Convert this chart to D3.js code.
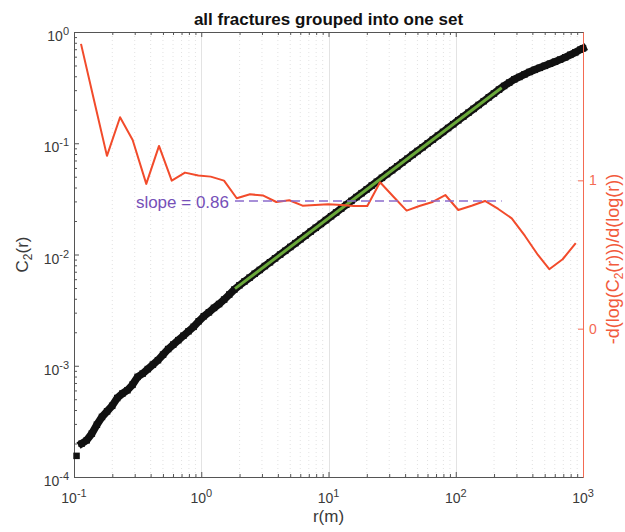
<!DOCTYPE html>
<html><head><meta charset="utf-8">
<script src="https://cdn.jsdelivr.net/npm/d3@7"></script>
<style>body{margin:0;background:#fff}text{font-family:"Liberation Sans",Arial,Helvetica,sans-serif}</style>
</head><body>
<svg id="chart" width="625" height="532"></svg>
<script>
// ---------- data ----------
const titleText = "all fractures grouped into one set";
const xLabelText = "r(m)";
// correlation integral C2(r): log10 r and log10 C2
const logR = [-0.98,-0.94,-0.90,-0.86,-0.82,-0.78,-0.74,-0.70,-0.66,-0.62,-0.58,-0.54,-0.50,-0.46,-0.42,-0.38,-0.34,-0.30,-0.26,-0.22,-0.18,-0.14,-0.10,-0.06,-0.02,
  0.02,0.06,0.10,0.14,0.18,0.22,0.26,0.30,0.34,0.38,0.42,0.46,0.50,0.54,0.58,0.62,0.66,0.70,0.74,0.78,0.82,0.86,0.90,0.94,0.98,
  1.02,1.06,1.10,1.14,1.18,1.22,1.26,1.30,1.34,1.38,1.42,1.46,1.50,1.54,1.58,1.62,1.66,1.70,1.74,1.78,1.82,1.86,1.90,1.94,1.98,
  2.02,2.06,2.10,2.14,2.18,2.22,2.26,2.30,2.34,2.38,2.42,2.46,2.50,2.54,2.58,2.62,2.66,2.70,2.74,2.78,2.82,2.86,2.90,2.94,2.98,3.00];
const logC2 = [-3.81,-3.70,-3.67,-3.61,-3.53,-3.46,-3.41,-3.36,-3.29,-3.25,-3.22,-3.17,-3.10,-3.07,-3.03,-2.99,-2.95,-2.90,-2.85,-2.81,-2.77,-2.73,-2.69,-2.65,-2.60,
  -2.555,-2.52,-2.48,-2.445,-2.405,-2.36,-2.315,-2.277,-2.242,-2.208,-2.173,-2.139,-2.104,-2.070,-2.035,-2.001,-1.967,-1.932,-1.898,-1.863,-1.829,-1.794,-1.760,-1.725,-1.691,
  -1.656,-1.622,-1.587,-1.553,-1.518,-1.484,-1.449,-1.415,-1.380,-1.346,-1.311,-1.277,-1.242,-1.208,-1.173,-1.139,-1.104,-1.070,-1.036,-1.001,-0.967,-0.932,-0.898,-0.863,-0.829,
  -0.794,-0.760,-0.725,-0.691,-0.656,-0.622,-0.587,-0.553,-0.518,-0.485,-0.455,-0.426,-0.404,-0.381,-0.359,-0.340,-0.322,-0.304,-0.285,-0.267,-0.248,-0.228,-0.205,-0.183,-0.158,-0.147];
// local slope -d(log C2)/d(log r) (right axis)
const derivLogR = [-0.945,-0.843,-0.741,-0.638,-0.539,-0.432,-0.332,-0.232,-0.128,-0.023,0.074,0.179,0.279,0.383,0.488,0.590,0.692,0.796,0.894,0.998,
  1.104,1.200,1.305,1.405,1.509,1.614,1.714,1.811,1.918,2.020,2.125,2.230,2.334,2.440,2.544,2.646,2.735,2.840,2.943];
const derivValues = [1.920,1.542,1.165,1.425,1.272,0.976,1.232,0.998,1.052,1.032,1.025,0.998,0.879,0.906,0.897,0.854,0.866,0.829,0.834,0.839,
  0.834,0.827,0.827,0.987,0.891,0.796,0.827,0.852,0.901,0.800,0.829,0.861,0.807,0.744,0.625,0.497,0.401,0.468,0.576];
// fitted power law
const fitR = [1.841, 229.6];
const fitC2 = [0.00493, 0.3155];
const fitSlope = 0.86;
const slopeLabel = "slope = 0.86";
// ticks
const xTickExps = [-1, 0, 1, 2, 3];
const yTickExps = [0, -1, -2, -3, -4];
const rightTicks = [0, 1];

// ---------- drawing ----------
const L = 74, R = 583, T = 32, B = 477;
const svg = d3.select("#chart");
const x = d3.scaleLog().domain([0.1, 1000]).range([L, R]);
const y = d3.scaleLog().domain([1e-4, 1]).range([B, T]);
const y2 = d3.scaleLinear().domain([-1, 2]).range([B, T]);

const axisGray = "#555";
const labelGray = "#3a3a3a";
const red = "#f24b2b";

const majorX = xTickExps.map(e => Math.pow(10, e));
const minorX = [];
for (let e = -1; e < 3; e++) for (let m = 2; m <= 9; m++) minorX.push(m * Math.pow(10, e));
const majorY = yTickExps.map(e => Math.pow(10, e));
const minorY = [];
for (let e = -4; e < 0; e++) for (let m = 2; m <= 9; m++) minorY.push(m * Math.pow(10, e));

// grid (vertical only)
const grid = svg.append("g");
grid.selectAll("line.minor").data(minorX).enter().append("line")
  .attr("x1", d => x(d)).attr("x2", d => x(d)).attr("y1", T).attr("y2", B)
  .attr("stroke", "#d6d6d6").attr("stroke-width", 0.7).attr("stroke-dasharray", "1,3");
grid.selectAll("line.major").data(majorX.slice(1, -1)).enter().append("line")
  .attr("x1", d => Math.round(x(d)) + 0.5).attr("x2", d => Math.round(x(d)) + 0.5).attr("y1", T).attr("y2", B)
  .attr("stroke", "#e3e3e3").attr("stroke-width", 1);

function styleAxis(g, color) {
  g.select(".domain").attr("stroke", color).attr("stroke-width", 1);
  g.selectAll(".tick line").attr("stroke", color).attr("stroke-width", 1);
  g.selectAll(".tick text").remove();
}
// bottom / top axes
const bMaj = svg.append("g").attr("transform", `translate(0,${B})`)
  .call(d3.axisBottom(x).tickValues(majorX).tickSizeInner(-5).tickSizeOuter(0).tickFormat(() => ""));
styleAxis(bMaj, axisGray);
const bMin = svg.append("g").attr("transform", `translate(0,${B})`)
  .call(d3.axisBottom(x).tickValues(minorX).tickSizeInner(-3).tickSizeOuter(0).tickFormat(() => ""));
styleAxis(bMin, axisGray);
const tMaj = svg.append("g").attr("transform", `translate(0,${T})`)
  .call(d3.axisTop(x).tickValues(majorX).tickSizeInner(-5).tickSizeOuter(0).tickFormat(() => ""));
styleAxis(tMaj, axisGray);
const tMin = svg.append("g").attr("transform", `translate(0,${T})`)
  .call(d3.axisTop(x).tickValues(minorX).tickSizeInner(-3).tickSizeOuter(0).tickFormat(() => ""));
styleAxis(tMin, axisGray);
// left axis
const lMaj = svg.append("g").attr("transform", `translate(${L},0)`)
  .call(d3.axisLeft(y).tickValues(majorY).tickSizeInner(-5).tickSizeOuter(0).tickFormat(() => ""));
styleAxis(lMaj, axisGray);
const lMin = svg.append("g").attr("transform", `translate(${L},0)`)
  .call(d3.axisLeft(y).tickValues(minorY).tickSizeInner(-3).tickSizeOuter(0).tickFormat(() => ""));
styleAxis(lMin, axisGray);

// tick labels with superscripts
xTickExps.forEach(e => {
  const t = svg.append("text").attr("x", x(Math.pow(10, e))).attr("y", 503)
    .attr("text-anchor", "middle").attr("fill", labelGray).attr("font-size", 14);
  t.append("tspan").text("10");
  t.append("tspan").attr("font-size", 11).attr("dy", -6).text(e);
});
yTickExps.forEach(e => {
  const t = svg.append("text").attr("x", 69).attr("y", y(Math.pow(10, e)) + 9)
    .attr("text-anchor", "end").attr("fill", labelGray).attr("font-size", 14);
  t.append("tspan").text("10");
  t.append("tspan").attr("font-size", 11).attr("dy", -6).text(e);
});

// black C2 markers (dense square markers form a continuous band)
const c2Pts = logR.map((lr, i) => [Math.pow(10, lr), Math.pow(10, logC2[i])]);
const ms = 6.5;
svg.append("path").datum(c2Pts.slice(1))
  .attr("d", d3.line().x(d => x(d[0])).y(d => y(d[1])))
  .attr("stroke", "#111").attr("stroke-width", 7.5).attr("fill", "none")
  .attr("stroke-linejoin", "miter").attr("stroke-linecap", "square");
svg.append("g").selectAll("rect").data(c2Pts)
  .enter().append("rect")
  .attr("x", d => x(d[0]) - ms / 2).attr("y", d => y(d[1]) - ms / 2)
  .attr("width", ms).attr("height", ms).attr("fill", "#111");

// green fit
svg.append("path").datum(fitR.map((r, i) => [r, fitC2[i]]))
  .attr("d", d3.line().x(d => x(d[0])).y(d => y(d[1])))
  .attr("stroke", "#6aa83a").attr("stroke-width", 3).attr("fill", "none");

// right axis
const rAx = svg.append("g").attr("transform", `translate(${R},0)`)
  .call(d3.axisRight(y2).tickValues(rightTicks).tickSizeInner(-5).tickSizeOuter(0).tickFormat(() => ""));
styleAxis(rAx, "#f46a52");
rightTicks.forEach(v => {
  svg.append("text").attr("x", 589).attr("y", y2(v) + 5).attr("fill", "#f46a52")
    .attr("font-size", 14).text(v);
});

// red derivative line
svg.append("path").datum(derivLogR.map((lr, i) => [Math.pow(10, lr), derivValues[i]]))
  .attr("d", d3.line().x(d => x(d[0])).y(d => y2(d[1])))
  .attr("stroke", red).attr("stroke-width", 2).attr("fill", "none").attr("stroke-linejoin", "round");

// dashed slope line
svg.append("path").datum(fitR.map(r => [r, fitSlope]))
  .attr("d", d3.line().x(d => x(d[0])).y(d => y2(d[1])))
  .attr("stroke", "#8a6bcc").attr("stroke-width", 1.5).attr("stroke-dasharray", "9,5").attr("fill", "none");
svg.append("text").attr("x", 229).attr("y", 208).attr("text-anchor", "end")
  .attr("fill", "#7650b8").attr("font-size", 17).text(slopeLabel);

// titles and axis labels
svg.append("text").attr("x", (L + R) / 2).attr("y", 25).attr("text-anchor", "middle")
  .attr("font-size", 17).attr("font-weight", "bold").attr("fill", "#111").text(titleText);
svg.append("text").attr("x", (L + R) / 2).attr("y", 522).attr("text-anchor", "middle")
  .attr("font-size", 17).attr("fill", labelGray).text(xLabelText);
const yl = svg.append("text").attr("transform", `translate(28,${(T + B) / 2}) rotate(-90)`)
  .attr("text-anchor", "middle").attr("font-size", 17).attr("fill", labelGray);
yl.append("tspan").text("C");
yl.append("tspan").attr("font-size", 12).attr("dy", 4).text("2");
yl.append("tspan").attr("dy", -4).text("(r)");
const rl = svg.append("text").attr("transform", `translate(619,259) rotate(-90)`)
  .attr("text-anchor", "middle").attr("font-size", 18).attr("fill", "#f25a3c");
rl.append("tspan").text("-d(log(C");
rl.append("tspan").attr("font-size", 12).attr("dy", 4).text("2");
rl.append("tspan").attr("dy", -4).text("(r)))/d(log(r))");
</script>
</body></html>
